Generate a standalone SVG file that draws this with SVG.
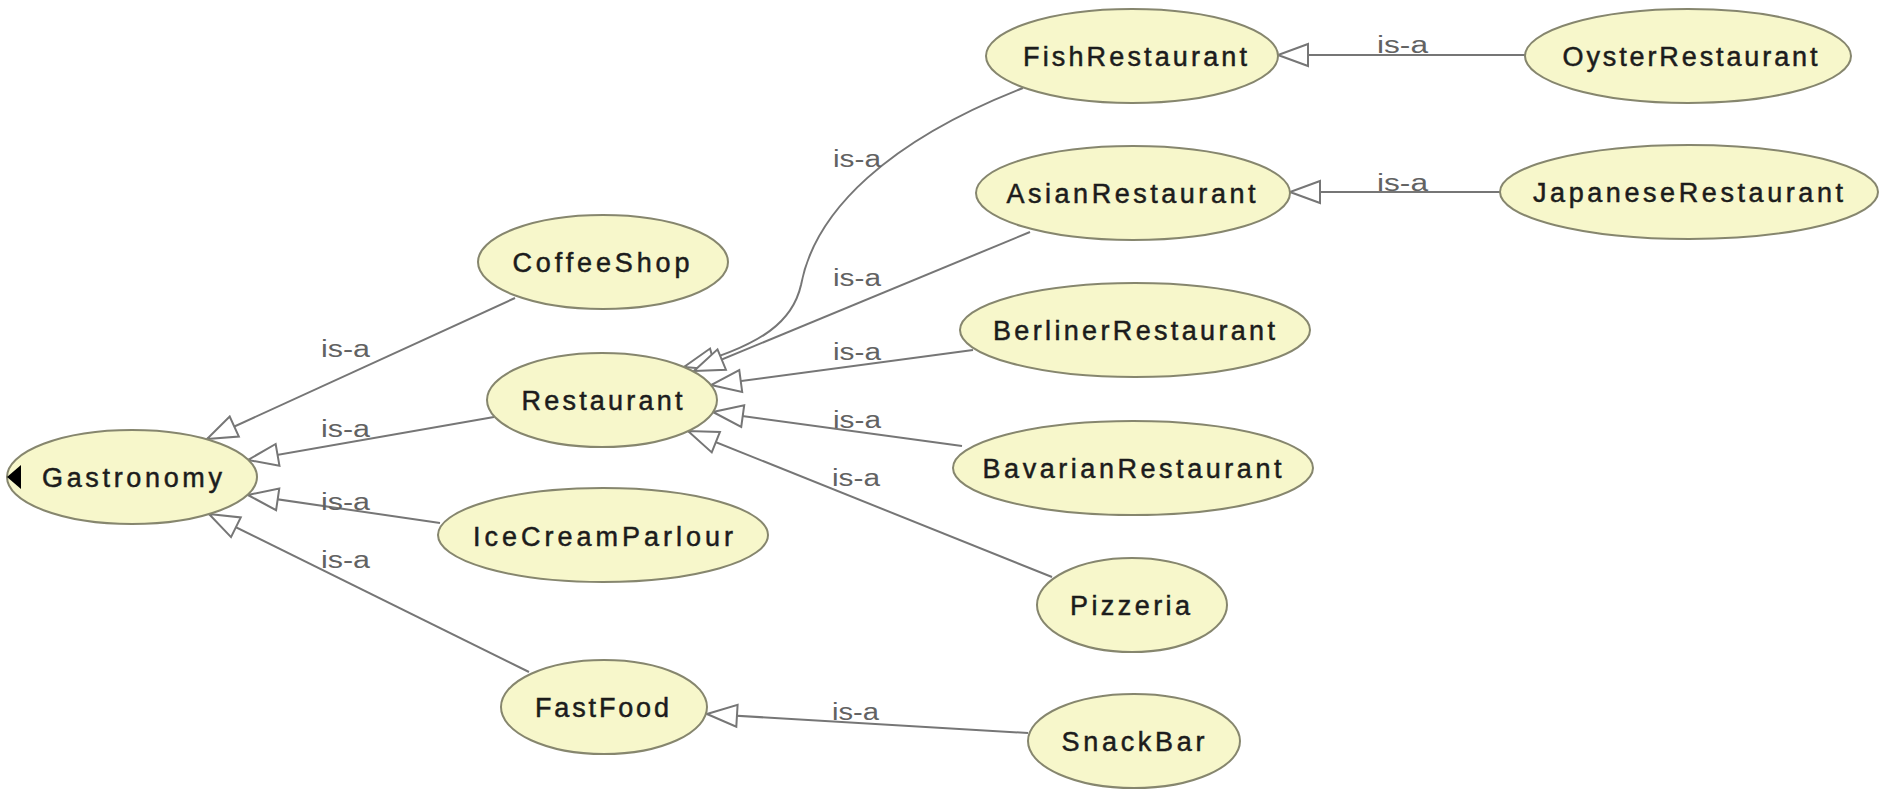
<svg xmlns="http://www.w3.org/2000/svg" width="1882" height="790" viewBox="0 0 1882 790">
<defs>
<style>
.node ellipse{fill:#f7f7cb;stroke:#86866e;stroke-width:2}
.node text{font-family:"Liberation Sans",Arial,sans-serif;font-size:27px;fill:#1c1c1c;stroke:#1c1c1c;stroke-width:0.5;text-anchor:middle}
.edge{fill:none;stroke:#767676;stroke-width:2;marker-end:url(#tri)}
.lbl{font-family:"Liberation Sans",Arial,sans-serif;font-size:23px;fill:#626262}
</style>
<marker id="tri" markerUnits="userSpaceOnUse" markerWidth="36" markerHeight="28" refX="32" refY="13" orient="auto">
<path d="M32,13 L2,2 L2,24 Z" fill="#ffffff" stroke="#767676" stroke-width="2"/>
</marker>
</defs>
<rect width="1882" height="790" fill="#ffffff"/>
<g id="connectors">
<path class="edge" d="M515,298 L207,439"/>
<path class="edge" d="M494,417 L248,460"/>
<path class="edge" d="M440,523 L248,495"/>
<path class="edge" d="M529,672 L209,514"/>
<path class="edge" d="M1023,88 C890,140 815,210 801,285 C793,320 765,345 684,367"/>
<path class="edge" d="M1030,232 L694,371"/>
<path class="edge" d="M973,350 L711,385"/>
<path class="edge" d="M962,446 L713,412"/>
<path class="edge" d="M1052,577 L688,431"/>
<path class="edge" d="M1525,55 L1278,55"/>
<path class="edge" d="M1500,192 L1290,192"/>
<path class="edge" d="M1028,733 L707,714"/>
<text class="lbl" x="321" y="357" textLength="49" lengthAdjust="spacingAndGlyphs">is-a</text>
<text class="lbl" x="321" y="437" textLength="49" lengthAdjust="spacingAndGlyphs">is-a</text>
<text class="lbl" x="321" y="510" textLength="49" lengthAdjust="spacingAndGlyphs">is-a</text>
<text class="lbl" x="321" y="568" textLength="49" lengthAdjust="spacingAndGlyphs">is-a</text>
<text class="lbl" x="833" y="167" textLength="48" lengthAdjust="spacingAndGlyphs">is-a</text>
<text class="lbl" x="833" y="286" textLength="48" lengthAdjust="spacingAndGlyphs">is-a</text>
<text class="lbl" x="833" y="360" textLength="48" lengthAdjust="spacingAndGlyphs">is-a</text>
<text class="lbl" x="833" y="428" textLength="48" lengthAdjust="spacingAndGlyphs">is-a</text>
<text class="lbl" x="832" y="486" textLength="48" lengthAdjust="spacingAndGlyphs">is-a</text>
<text class="lbl" x="1377" y="53" textLength="51" lengthAdjust="spacingAndGlyphs">is-a</text>
<text class="lbl" x="1377" y="191" textLength="51" lengthAdjust="spacingAndGlyphs">is-a</text>
<text class="lbl" x="832" y="720" textLength="47" lengthAdjust="spacingAndGlyphs">is-a</text>
</g>
<g id="Gastronomy" class="node"><ellipse cx="132" cy="477" rx="125" ry="47"/><text x="132" y="487" textLength="180" lengthAdjust="spacing">Gastronomy</text><path d="M7,477 L21,465 L21,489 Z" fill="#000000"/></g>
<g id="CoffeeShop" class="node"><ellipse cx="603" cy="262" rx="125" ry="47"/><text x="601" y="272" textLength="177" lengthAdjust="spacing">CoffeeShop</text></g>
<g id="Restaurant" class="node"><ellipse cx="602" cy="400" rx="115" ry="47"/><text x="602" y="410" textLength="161" lengthAdjust="spacing">Restaurant</text></g>
<g id="IceCreamParlour" class="node"><ellipse cx="603" cy="535" rx="165" ry="47"/><text x="603" y="546" textLength="260" lengthAdjust="spacing">IceCreamParlour</text></g>
<g id="FastFood" class="node"><ellipse cx="604" cy="707" rx="103" ry="47"/><text x="602" y="717" textLength="134" lengthAdjust="spacing">FastFood</text></g>
<g id="FishRestaurant" class="node"><ellipse cx="1132" cy="56" rx="146" ry="47"/><text x="1135" y="66" textLength="224" lengthAdjust="spacing">FishRestaurant</text></g>
<g id="OysterRestaurant" class="node"><ellipse cx="1688" cy="56" rx="163" ry="47"/><text x="1690" y="66" textLength="255" lengthAdjust="spacing">OysterRestaurant</text></g>
<g id="AsianRestaurant" class="node"><ellipse cx="1133" cy="193" rx="157" ry="47"/><text x="1131" y="203" textLength="249" lengthAdjust="spacing">AsianRestaurant</text></g>
<g id="JapaneseRestaurant" class="node"><ellipse cx="1689" cy="192" rx="189" ry="47"/><text x="1688" y="202" textLength="310" lengthAdjust="spacing">JapaneseRestaurant</text></g>
<g id="BerlinerRestaurant" class="node"><ellipse cx="1135" cy="330" rx="175" ry="47"/><text x="1134" y="340" textLength="282" lengthAdjust="spacing">BerlinerRestaurant</text></g>
<g id="BavarianRestaurant" class="node"><ellipse cx="1133" cy="468" rx="180" ry="47"/><text x="1132" y="478" textLength="299" lengthAdjust="spacing">BavarianRestaurant</text></g>
<g id="Pizzeria" class="node"><ellipse cx="1132" cy="605" rx="95" ry="47"/><text x="1130" y="615" textLength="120" lengthAdjust="spacing">Pizzeria</text></g>
<g id="SnackBar" class="node"><ellipse cx="1134" cy="741" rx="106" ry="47"/><text x="1133" y="751" textLength="143" lengthAdjust="spacing">SnackBar</text></g>
</svg>
